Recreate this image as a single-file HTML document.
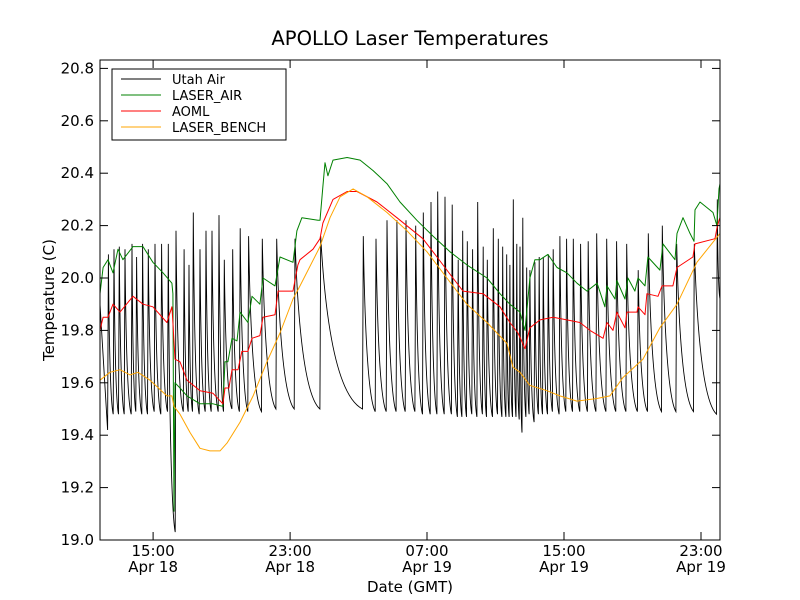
<!DOCTYPE html>
<html><head><meta charset="utf-8"><style>
html,body{margin:0;padding:0;background:#fff;}
svg{display:block;font-family:"DejaVu Sans","Liberation Sans",sans-serif;}
</style></head><body>
<svg id="chart" width="800" height="600" viewBox="0 0 800 600">
<rect x="0" y="0" width="800" height="600" fill="#fff"/>
<text x="410" y="45" text-anchor="middle" font-size="19.6">APOLLO Laser Temperatures</text>
<g id="series"></g>
<rect x="100" y="60" width="620" height="480" fill="none" stroke="#000" stroke-width="1"/>
<g id="axes"></g>
<text x="410" y="592" text-anchor="middle" font-size="15">Date (GMT)</text>
<text transform="translate(54,300) rotate(-90)" text-anchor="middle" font-size="15">Temperature (C)</text>
<g id="legend">
<rect x="112" y="69" width="174" height="71" fill="#fff" stroke="#000" stroke-width="1"/>
<line x1="121" y1="79" x2="161" y2="79" stroke="#000"/>
<text x="172" y="84" font-size="13">Utah Air</text>
<line x1="121" y1="95" x2="161" y2="95" stroke="#008000"/>
<text x="172" y="100" font-size="13">LASER_AIR</text>
<line x1="121" y1="111" x2="161" y2="111" stroke="#ff0000"/>
<text x="172" y="116" font-size="13">AOML</text>
<line x1="121" y1="127" x2="161" y2="127" stroke="#ffa500"/>
<text x="172" y="132" font-size="13">LASER_BENCH</text>
</g>
</svg>
<script>
// hours since Apr 18 00:00 GMT
const yTicks = [19.0,19.2,19.4,19.6,19.8,20.0,20.2,20.4,20.6,20.8];
const yTickLabels = ["19.0","19.2","19.4","19.6","19.8","20.0","20.2","20.4","20.6","20.8"];
const xTicks = [14.42,22.42,30.42,38.42,46.42];
const xTickTimes = ["15:00","23:00","07:00","15:00","23:00"];
const xTickDates = ["Apr 18","Apr 18","Apr 19","Apr 19","Apr 19"];

const utahPeakHour = [11.81,12.14,12.45,12.78,13.19,13.46,13.81,14.14,14.53,14.92,15.31,15.76,16.23,16.52,16.77,17.16,17.51,17.86,18.27,18.58,19.07,19.51,20.00,20.80,21.64,22.71,24.21,26.70,27.44,28.08,28.66,29.19,29.76,30.20,30.65,31.04,31.47,31.89,32.24,32.50,32.77,33.08,33.38,33.70,33.94,34.29,34.58,34.84,35.07,35.26,35.46,35.66,35.85,36.01,36.24,36.43,36.72,36.97,37.21,37.50,37.79,38.18,38.57,38.96,39.39,39.83,40.33,40.91,41.49,42.08,42.75,43.34,44.16,45.00,46.03,47.37];
const utahPeakTemp = [20.09,20.11,20.12,20.11,20.13,20.08,20.13,20.11,20.13,20.13,20.13,20.18,20.11,20.05,20.25,20.11,20.18,20.18,20.24,20.07,20.11,20.19,20.16,20.15,20.15,20.15,20.16,20.16,20.15,20.22,20.22,20.22,20.20,20.25,20.29,20.33,20.31,20.28,20.07,20.18,20.14,20.11,20.29,20.12,20.07,20.19,20.15,20.12,20.09,20.05,20.30,20.13,20.12,20.23,20.04,20.03,20.06,20.08,20.08,20.09,20.11,20.16,20.15,20.15,20.13,20.14,20.17,20.15,20.14,20.13,20.03,20.17,20.20,20.13,20.13,20.30];
const utahLowTemp = [19.42,19.48,19.48,19.48,19.48,19.49,19.48,19.48,19.49,19.48,19.49,19.03,19.49,19.49,19.49,19.48,19.49,19.49,19.49,19.49,19.50,19.49,19.49,19.49,19.50,19.50,19.50,19.50,19.49,19.49,19.49,19.49,19.49,19.48,19.48,19.48,19.48,19.48,19.47,19.47,19.47,19.48,19.47,19.48,19.47,19.47,19.48,19.47,19.47,19.47,19.47,19.47,19.46,19.41,19.47,19.48,19.45,19.48,19.48,19.48,19.49,19.48,19.49,19.49,19.49,19.49,19.49,19.49,19.49,19.49,19.49,19.49,19.49,19.49,19.49,19.48];
const utahEndHour = 47.53;
const utahEndTemp = 19.92;

const airHour = [11.32,11.50,11.79,12.08,12.37,12.66,13.25,13.83,14.41,15.00,15.52,15.58,15.64,15.70,15.99,16.40,17.16,17.92,18.50,18.62,18.79,19.03,19.32,19.50,19.96,20.20,20.66,20.84,21.54,21.83,22.59,22.82,23.11,24.05,24.17,24.34,24.46,24.63,24.93,25.75,26.51,27.27,28.08,28.84,29.83,30.77,31.76,32.75,33.92,34.68,35.26,35.85,36.14,36.43,36.72,37.02,37.48,38.01,38.59,39.18,39.76,40.35,40.81,40.93,41.40,41.51,41.98,42.15,42.56,42.74,43.15,43.32,44.02,44.20,44.90,45.02,45.37,45.78,46.01,46.07,46.36,47.12,47.35,47.47,47.53];
const airTemp = [19.94,20.04,20.07,20.02,20.11,20.07,20.12,20.12,20.06,20.02,19.98,19.94,19.11,19.60,19.58,19.55,19.52,19.52,19.51,19.68,19.68,19.77,19.76,19.87,19.83,19.93,19.90,20.00,19.97,20.08,20.06,20.18,20.23,20.22,20.22,20.35,20.44,20.39,20.45,20.46,20.45,20.41,20.36,20.29,20.22,20.16,20.10,20.05,20.00,19.94,19.90,19.87,19.80,20.00,20.07,20.07,20.09,20.04,20.02,19.98,19.95,19.98,19.89,19.97,19.92,19.99,19.92,20.00,19.95,20.00,19.97,20.08,20.03,20.13,20.07,20.17,20.23,20.17,20.14,20.26,20.29,20.25,20.20,20.34,20.36];

const aomlHour = [11.32,11.50,11.79,12.08,12.49,13.25,13.83,14.41,15.23,15.52,15.58,15.70,15.99,16.40,17.16,17.92,18.50,18.62,18.85,19.03,19.38,19.61,19.96,20.20,20.66,20.84,21.54,21.72,22.59,22.88,23.00,23.76,24.17,24.34,24.93,25.75,26.33,27.50,28.66,29.42,30.18,31.00,31.93,32.52,33.69,34.68,35.26,35.73,36.14,36.43,37.02,37.78,38.59,39.35,39.94,40.70,40.93,41.28,41.51,41.98,42.09,42.68,42.74,43.15,43.26,43.91,44.14,44.78,45.02,45.95,46.07,47.24,47.35,47.47,47.53];
const aomlTemp = [19.80,19.85,19.85,19.90,19.87,19.93,19.90,19.89,19.83,19.89,19.83,19.69,19.68,19.61,19.57,19.56,19.52,19.58,19.58,19.65,19.65,19.72,19.72,19.77,19.78,19.85,19.86,19.95,19.95,20.05,20.07,20.11,20.15,20.21,20.30,20.33,20.33,20.29,20.23,20.19,20.15,20.08,20.00,19.95,19.94,19.89,19.83,19.79,19.73,19.81,19.84,19.85,19.84,19.83,19.80,19.77,19.83,19.80,19.87,19.81,19.87,19.87,19.89,19.86,19.94,19.93,19.97,19.97,20.04,20.08,20.13,20.15,20.19,20.22,20.23];

const benchHour = [11.32,11.90,12.49,13.07,13.54,14.24,15.23,15.52,15.64,15.99,16.58,17.16,17.74,18.33,18.74,19.50,20.26,21.07,21.83,22.59,23.00,24.17,24.75,25.34,26.10,26.92,28.08,29.25,30.42,31.58,32.75,33.92,35.09,35.44,35.85,36.43,37.42,38.18,39.17,40.34,41.10,41.86,43.03,44.02,45.02,46.18,47.41,47.53];
const benchTemp = [19.61,19.64,19.65,19.63,19.64,19.61,19.55,19.55,19.51,19.48,19.41,19.35,19.34,19.34,19.37,19.45,19.55,19.68,19.79,19.92,19.97,20.12,20.23,20.31,20.34,20.31,20.25,20.18,20.10,20.00,19.90,19.83,19.75,19.66,19.64,19.59,19.57,19.55,19.53,19.54,19.55,19.62,19.69,19.81,19.90,20.06,20.16,20.17];

const X0=100, X1=720, Y0=60, Y1=540;
const H0=11.32, H1=47.53, T0=19.0, T1=20.832;
function xs(h){return X0+(h-H0)/(H1-H0)*(X1-X0);}
function ys(t){return Y1-(t-T0)/(T1-T0)*(Y1-Y0);}
const NS='http://www.w3.org/2000/svg';
const series=document.getElementById('series');
const axes=document.getElementById('axes');

const defs=document.createElementNS(NS,'defs');
defs.innerHTML='<clipPath id="clip"><rect x="100" y="60" width="620" height="480"/></clipPath>';
document.getElementById('chart').insertBefore(defs,series);
series.setAttribute('clip-path','url(#clip)');

function poly(hs,ts,color,name){
  const p=document.createElementNS(NS,'polyline');
  p.setAttribute('points',hs.map((h,i)=>xs(h).toFixed(1)+','+ys(ts[i]).toFixed(1)).join(' '));
  p.setAttribute('fill','none');
  p.setAttribute('stroke',color);
  p.setAttribute('stroke-width','1');
  p.setAttribute('stroke-linejoin','round');
  
  
  series.appendChild(p);
}

(function(){
  let d='M'+X0+','+ys(19.90).toFixed(1);
  for(let i=0;i<utahPeakHour.length;i++){
    const px=xs(utahPeakHour[i]), py=ys(utahPeakTemp[i]);
    const lx=px-0.8, ly=ys(utahLowTemp[i]);
    d+=' L'+lx.toFixed(1)+','+ly.toFixed(1)+' L'+px.toFixed(1)+','+py.toFixed(1);
    let nx, ny;
    if(i+1<utahPeakHour.length){nx=xs(utahPeakHour[i+1])-0.8; ny=ys(utahLowTemp[i+1]);}
    else {nx=xs(utahEndHour); ny=ys(utahEndTemp);}
    const cx=px+(nx-px)*0.2, cy=py+(ny-py)*0.9;
    d+=' Q'+cx.toFixed(1)+','+cy.toFixed(1)+' '+nx.toFixed(1)+','+ny.toFixed(1);
  }
  const p=document.createElementNS(NS,'path');
  p.setAttribute('d',d);
  p.setAttribute('fill','none');
  p.setAttribute('stroke','#000');
  p.setAttribute('stroke-width','0.9');
  
  
  series.appendChild(p);
})();
poly(airHour,airTemp,'#008000','laser-air-line');
poly(aomlHour,aomlTemp,'#ff0000','aoml-line');
poly(benchHour,benchTemp,'#ffa500','laser-bench-line');

function ln(x1,y1,x2,y2,name){
  const l=document.createElementNS(NS,'line');
  l.setAttribute('x1',x1);l.setAttribute('y1',y1);l.setAttribute('x2',x2);l.setAttribute('y2',y2);
  l.setAttribute('stroke','#000');
  
  
  axes.appendChild(l);
}
function tx(x,y,s,anchor,name){
  const t=document.createElementNS(NS,'text');
  t.setAttribute('x',x);t.setAttribute('y',y);t.setAttribute('text-anchor',anchor);
  t.setAttribute('font-size','15');
  t.textContent=s;
  
  
  axes.appendChild(t);
}
yTicks.forEach((v,i)=>{
  const y=ys(v).toFixed(1);
  ln(X0,y,X0+8,y,'y-tick');
  ln(X1-8,y,X1,y,'y-tick-right');
  tx(X0-6,+y+5,yTickLabels[i],'end','y-tick-label');
});
xTicks.forEach((h,i)=>{
  const x=xs(h).toFixed(1);
  ln(x,Y1,x,Y1-8,'x-tick');
  ln(x,Y0,x,Y0+8,'x-tick-top');
  tx(x,556,xTickTimes[i],'middle','x-tick-time-label');
  tx(x,572,xTickDates[i],'middle','x-tick-date-label');
});
</script>
</body></html>
